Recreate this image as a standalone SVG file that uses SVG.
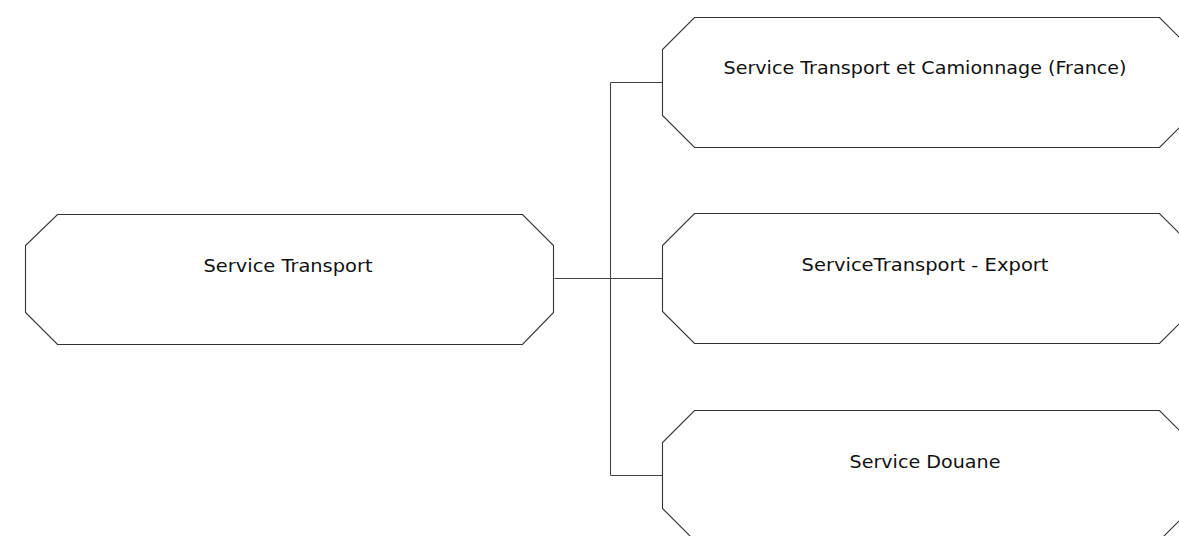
<svg xmlns="http://www.w3.org/2000/svg" width="1179" height="536" viewBox="0 0 1179 536">
  <style>
    .node { fill: #ffffff; stroke: #333333; stroke-width: 1.1; }
    .label { font-family: "DejaVu Sans", "Noto Sans", sans-serif; font-size: 18.5px; fill: #111111; text-anchor: middle; }
    .edge { fill: none; stroke: #444444; stroke-width: 1.1; }
  </style>
  <rect x="0" y="0" width="1179" height="536" fill="#ffffff"/>

  <g id="connectors">
    <path class="edge" d="M554.5,278.5 H662.5"/>
    <path class="edge" d="M610.5,82.5 V475.5"/>
    <path class="edge" d="M610.5,82.5 H662.5"/>
    <path class="edge" d="M610.5,475.5 H662.5"/>
  </g>

  <g id="node-service-transport">
    <polygon class="node" points="57.5,214.5 522.5,214.5 553.5,245.5 553.5,312.5 522.5,344.5 57.5,344.5 25.5,312.5 25.5,245.5"/>
    <text class="label" x="288" y="272" textLength="169" lengthAdjust="spacingAndGlyphs">Service Transport</text>
  </g>

  <g id="node-transport-camionnage">
    <polygon class="node" points="694.5,17.5 1159.5,17.5 1191.5,49.5 1191.5,115.5 1159.5,147.5 694.5,147.5 662.5,115.5 662.5,49.5"/>
    <text class="label" x="925" y="74" textLength="403" lengthAdjust="spacingAndGlyphs">Service Transport et Camionnage (France)</text>
  </g>

  <g id="node-transport-export">
    <polygon class="node" points="694.5,213.5 1159.5,213.5 1191.5,245.5 1191.5,311.5 1159.5,343.5 694.5,343.5 662.5,311.5 662.5,245.5"/>
    <text class="label" x="925" y="271" textLength="247" lengthAdjust="spacingAndGlyphs">ServiceTransport - Export</text>
  </g>

  <g id="node-douane">
    <polygon class="node" points="694.5,410.5 1159.5,410.5 1191.5,442.5 1191.5,508.5 1159.5,540.5 694.5,540.5 662.5,508.5 662.5,442.5"/>
    <text class="label" x="925" y="468" textLength="151" lengthAdjust="spacingAndGlyphs">Service Douane</text>
  </g>
</svg>
